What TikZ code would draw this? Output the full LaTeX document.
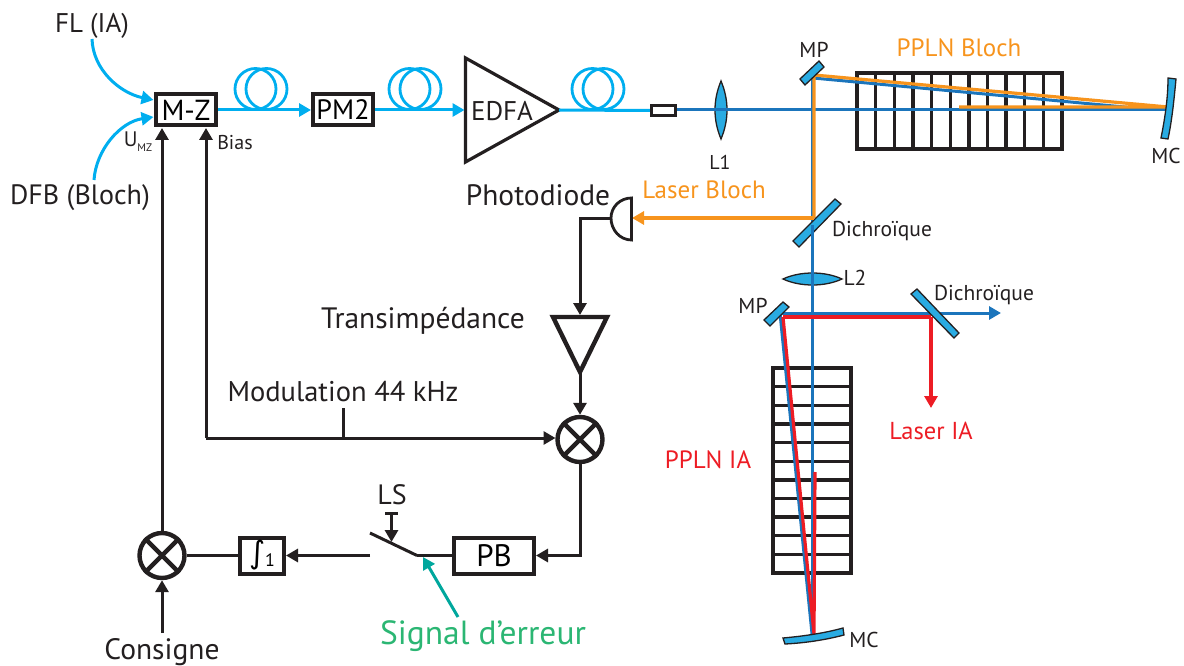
\documentclass[tikz,border=0pt]{standalone}
\usepackage{fontspec}
\setmainfont{PT Sans}
\newfontfamily\symfont{DejaVu Sans}
\usetikzlibrary{arrows.meta,calc}
\definecolor{ink}{HTML}{231F20}
\definecolor{fibre}{HTML}{00AEEF}
\definecolor{beam}{HTML}{1B75BC}
\definecolor{glass}{HTML}{29ABE2}
\definecolor{bloch}{HTML}{F7941D}
\definecolor{iared}{HTML}{ED1C24}
\definecolor{teal}{HTML}{00A79D}
\definecolor{sgreen}{HTML}{2BB673}
\newcommand{\fs}[1]{\fontsize{#1}{#1}\selectfont}
\tikzset{
 x=1pt,y=-1pt,
 tip/.style={-{Triangle[length=12pt,width=13pt]}},
 wire/.style={draw=ink,line width=3pt},
 fib/.style={draw=fibre,line width=3pt},
 coil/.style={draw=fibre,line width=2.8pt},
 box/.style={draw=ink,line width=4pt,fill=white,inner sep=0pt,font=\fs{28}},
 ring/.style={circle,draw=ink,line width=4.4pt,minimum size=45pt,inner sep=0pt,fill=white},
 optic/.style={draw=ink,line width=1.3pt,fill=glass},
 gridl/.style={draw=ink,line width=3.4pt},
 bm/.style={draw=beam,line width=3pt},
 ob/.style={draw=bloch,line width=3.2pt},
 rb/.style={draw=iared,line width=3.2pt},
 lab/.style={text=ink,inner sep=0pt,font=\fs{29}},
 small/.style={text=ink,inner sep=0pt,font=\fs{21.5}},
}
\begin{document}
\begin{tikzpicture}
\useasboundingbox (0,0) rectangle (1184,666);
% ---- crystals
\foreach \i in {0,...,11}{\draw[gridl] ({857+\i*18.64},73) -- ({857+\i*18.64},149);}
\draw[gridl] (855.3,73) -- (1063.7,73) (855.3,149) -- (1063.7,149);
\foreach \i in {0,...,11}{\draw[gridl] (773,{368+\i*18.64}) -- (851,{368+\i*18.64});}
\draw[gridl] (773,366.3) -- (773,574.7) (851,366.3) -- (851,574.7);
% ---- named points
\coordinate (mpa) at (813,78);
\coordinate (dia) at (813,218);
\coordinate (mca) at (1168,110);
\coordinate (mcao) at (1168,107);
\coordinate (dib) at (931,317);
% ---- free-space beams
\draw[bm] (676,110) -- (mca);
\draw[bm] (812,72) -- (812,634);
\draw[bm] (mpa) -- (1135,108);
\draw[bm] (780,313) -- (812,634);
\draw[bm,tip] (780,313) -- (1001,313);
\draw[ob] (814,218) -- (814,75) -- (mcao) -- (959,107);
\draw[rb] (783,317) -- (814,634) -- (815,472);
\draw[rb] (783,317) -- (dib);
\draw[rb,tip] (dib) -- (931,408);
% ---- optics
\draw[optic] (819,61) -- (824,67) -- (805,85) -- (800,79) -- cycle;
\draw[optic] (835,199) -- (841,204) -- (799,247) -- (793,241) -- cycle;
\draw[optic] (783,302) -- (789,307) -- (770,326) -- (764,320) -- cycle;
\draw[optic] (917,289) -- (911,294) -- (954,338) -- (959,333) -- cycle;
\draw[optic] (1168,78) -- (1176,79) .. controls (1174,100) and (1172,120) .. (1168,139) -- (1161,138) .. controls (1165,118) and (1168,98) .. cycle;
\draw[optic] (783,638) -- (785,644) .. controls (805,643) and (825,640) .. (844,635) -- (843,628) .. controls (825,633) and (805,636) .. cycle;
\draw[optic] (721,81) .. controls (729,100) and (729,120) .. (721,139) .. controls (713,120) and (713,100) .. (721,81) -- cycle;
\draw[optic] (783,279) .. controls (800,271) and (825,271) .. (842,279) .. controls (825,287) and (800,287) .. (783,279) -- cycle;
\draw[bm] (700,110) -- (740,110);
\draw[bm] (812,260) -- (812,300);
\draw[bm] (812,225) -- (812,245);
\draw[ob] (800,218) -- (814,218);
\draw[ob,tip] (dia) -- (632,218);
% ---- boxes
\node[box,font=\fs{29},minimum width=60pt,minimum height=31pt] (mz) at (186,110) {M-Z};
\node[box,minimum width=60pt,minimum height=31pt] (pm) at (343,110) {PM2};
\node[box,line width=3.2pt,minimum width=24pt,minimum height=10pt] (iso) at (663.5,110.5) {};
\node[box,font=\fs{31},minimum width=80pt,minimum height=36pt] (pb) at (494,555.5) {PB};
\node[box,minimum width=44pt,minimum height=36pt] (integ) at (262,555.5) {{\symfont\fs{31}∫}{\fs{18}\raisebox{-3pt}{1}}};
% ---- EDFA
\draw[draw=ink,line width=3.2pt,line join=miter,fill=white] (465.5,58) coordinate (edfaT) -- (559,110) coordinate (edfaOut) -- (465.5,162) -- cycle;
\coordinate (edfaIn) at (464.5,110);
\node[lab,font=\fs{27}] (edfa) at (502,111) {EDFA};
% ---- fibre coils
\foreach \c in {255.5,266.5,409.5,420.5,592.5,603.5}{\draw[coil] (\c,89) circle[radius=20.5];}
\draw[fib,tip] (mz.east) -- (pm.west);
\draw[fib,tip] (pm.east) -- (edfaIn);
\draw[fib] (edfaOut) -- (iso.west);
% ---- input fibres
\node[lab,font=\fs{27}] (fl) at (92,26) {FL (IA)};
\node[lab,font=\fs{28}] (dfb) at (80,198) {DFB (Bloch)};
\draw[fib,tip] (92,39) .. controls (93,70) and (120,93) .. (153.5,100);
\draw[fib,tip] (94,180) .. controls (96,150) and (120,122) .. (153.5,117);
% ---- detection chain
\draw[draw=ink,line width=2.8pt,line join=miter,fill=white] (631.5,198) coordinate (pdT) .. controls (620,198) and (611,207) .. (611,218) coordinate (pdOut) .. controls (611,230) and (620,240) .. (631.5,240) -- cycle;
\draw[draw=ink,line width=4.4pt,line join=miter] (553,317) coordinate (tiaL) -- (607,317) -- (580,372) coordinate (tiaOut) -- cycle;
\coordinate (tiaIn) at (580,315);
\draw[wire,tip] (pdOut) -- (580,218) -- (tiaIn);
\node[ring] (mix) at (580,439.5) {};
\node[ring] (mix2) at (162,555.5) {};
\foreach \m in {mix,mix2}{\draw[ink,line width=4.4pt] (\m.45) -- (\m.225) (\m.135) -- (\m.315);}
\draw[wire,tip] (tiaOut) -- (mix.north);
\coordinate (biasC) at (206,438);
\coordinate (modT) at (343,408);
\coordinate (modC) at (343,438);
\draw[wire,tip] (biasC) -- (206,128);
\draw[wire,tip] (biasC) -- (555.5,438);
\draw[wire] (modT) -- (modC);
\draw[wire,tip] (mix.south) -- (580,555.5) -- (pb.east);
% ---- switch
\coordinate (swR) at (417,555.5);
\coordinate (swL) at (370,533);
\coordinate (swO) at (370,555.5);
\draw[wire] (pb.west) -- (swR);
\draw[wire] (swR) -- (swL);
\draw[wire,tip] (swO) -- (integ.east);
\draw[wire] (integ.west) -- (mix2.east);
\draw[wire,tip] (mix2.north) -- (162,128);
\coordinate (cons) at (162,633);
\draw[wire,tip] (cons) -- (mix2.south);
\coordinate (lsT) at (391.5,513);
\draw[wire] (385,513) -- (398,513);
\draw[wire,tip] (lsT) -- (391.5,542);
\coordinate (sigS) at (458,617);
\coordinate (sigE) at (423,557);
\draw[draw=teal,line width=3pt,tip] (sigS) -- (sigE);
% ---- labels
\node[small,font=\fs{21}] (umz) at (138,142) {U\raisebox{-5pt}{\fs{11}MZ}};
\node[small,font=\fs{20}] (bias) at (235,143) {Bias};
\node[small,font=\fs{20}] (l1) at (720,162) {L1};
\node[small] (l2) at (855,278) {L2};
\node[small] (mp1) at (814,50) {MP};
\node[small] (mp2) at (753,306) {MP};
\node[small] (mc1) at (1166,156) {MC};
\node[small] (mc2) at (864,640) {MC};
\node[small] (d1) at (882,231) {Dichroïque};
\node[small] (d2) at (984,295) {Dichroïque};
\node[lab,text=bloch,font=\fs{25}] (pb1) at (959,48) {PPLN Bloch};
\node[lab,text=bloch,font=\fs{25}] (lb) at (704,190) {Laser Bloch};
\node[lab,text=iared,font=\fs{24.5}] (lia) at (931,431) {Laser IA};
\node[lab,text=iared,font=\fs{25}] (pia) at (708,460) {PPLN IA};
\node[lab,font=\fs{29.5}] (ph) at (538,195) {Photodiode};
\node[lab,font=\fs{29.5}] (ti) at (423,321) {Transimpédance};
\node[lab,font=\fs{28.5}] (mo) at (343,392) {Modulation 44 kHz};
\node[lab,font=\fs{29.5}] (co) at (162,652) {Consigne};
\node[lab,font=\fs{28}] (ls) at (392,495) {LS};
\node[lab,text=sgreen,font=\fs{33.5}] (si) at (483,636) {Signal d’erreur};
\end{tikzpicture}
\end{document}
